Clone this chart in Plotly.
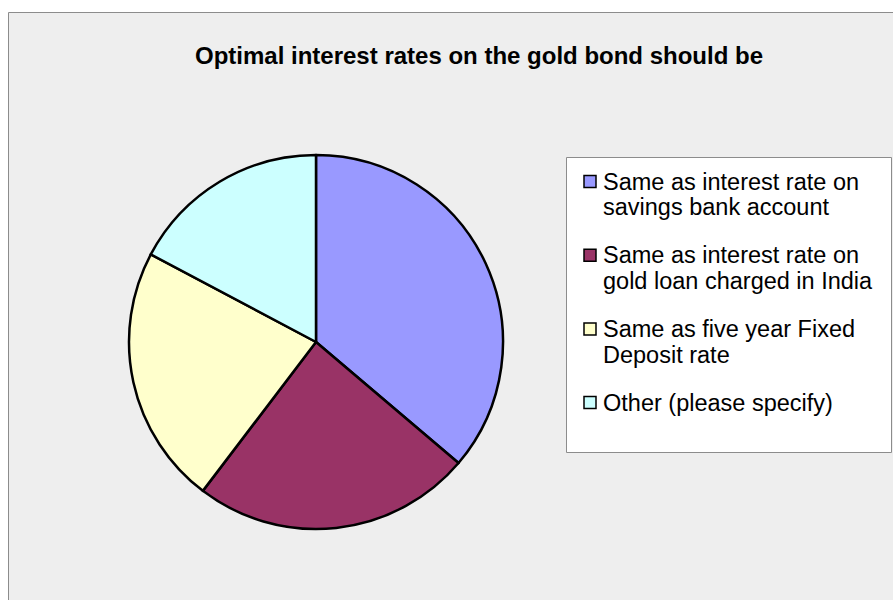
import plotly.graph_objects as go

# Survey responses: preferred interest rate basis for the gold bond
categories = [
    "Same as interest rate on savings bank account",
    "Same as interest rate on gold loan charged in India",
    "Same as five year Fixed Deposit rate",
    "Other (please specify)",
]
legend_lines = [
    ["Same as interest rate on", "savings bank account"],
    ["Same as interest rate on", "gold loan charged in India"],
    ["Same as five year Fixed", "Deposit rate"],
    ["Other (please specify)"],
]
responses = [21, 14, 13, 10]
colors = ["#9999FF", "#993366", "#FFFFCC", "#CCFFFF"]

W, H = 893, 600
FONT = "Arial, Liberation Sans, sans-serif"


def px(x):
    return x / W


def py(y):
    return 1 - y / H


fig = go.Figure()
fig.add_trace(
    go.Pie(
        labels=categories,
        values=responses,
        sort=False,
        direction="clockwise",
        rotation=0,
        marker=dict(colors=colors, line=dict(color="#000000", width=2.5)),
        textinfo="none",
        hoverinfo="label+value+percent",
        showlegend=False,
        domain=dict(x=[px(129), px(503)], y=[py(529), py(155)]),
    )
)

shapes = [
    # chart area
    dict(type="rect", xref="paper", yref="paper",
         x0=px(8.5), x1=px(W + 5), y0=py(12.5), y1=py(H + 5),
         fillcolor="#EEEEEE", line=dict(color="#8C8C8C", width=1), layer="below"),
    # legend box
    dict(type="rect", xref="paper", yref="paper",
         x0=px(566.5), x1=px(891.5), y0=py(157.5), y1=py(452.5),
         fillcolor="#FFFFFF", line=dict(color="#8C8C8C", width=1), layer="below"),
]

annotations = [
    dict(text="<b>Optimal interest rates on the gold bond should be</b>",
         xref="paper", yref="paper", x=px(479), y=py(55),
         xanchor="center", yanchor="middle", showarrow=False,
         font=dict(family=FONT, size=24, color="#000000")),
]

item_y = [181.5, 255.2, 328.9, 402.6]
line_gap = 25.7
for i, lines in enumerate(legend_lines):
    cy = item_y[i]
    shapes.append(
        dict(type="rect", xref="paper", yref="paper",
             x0=px(584), x1=px(596), y0=py(cy - 6), y1=py(cy + 6),
             fillcolor=colors[i], line=dict(color="#000000", width=1.5))
    )
    for j, line in enumerate(lines):
        annotations.append(
            dict(text=line, xref="paper", yref="paper",
                 x=px(601), y=py(cy + j * line_gap),
                 xanchor="left", yanchor="middle", showarrow=False,
                 font=dict(family=FONT, size=23.5, color="#000000"))
        )

fig.update_layout(
    width=W,
    height=H,
    margin=dict(l=0, r=0, t=0, b=0),
    paper_bgcolor="#FFFFFF",
    plot_bgcolor="#FFFFFF",
    shapes=shapes,
    annotations=annotations,
)

fig.write_html("out.html")
